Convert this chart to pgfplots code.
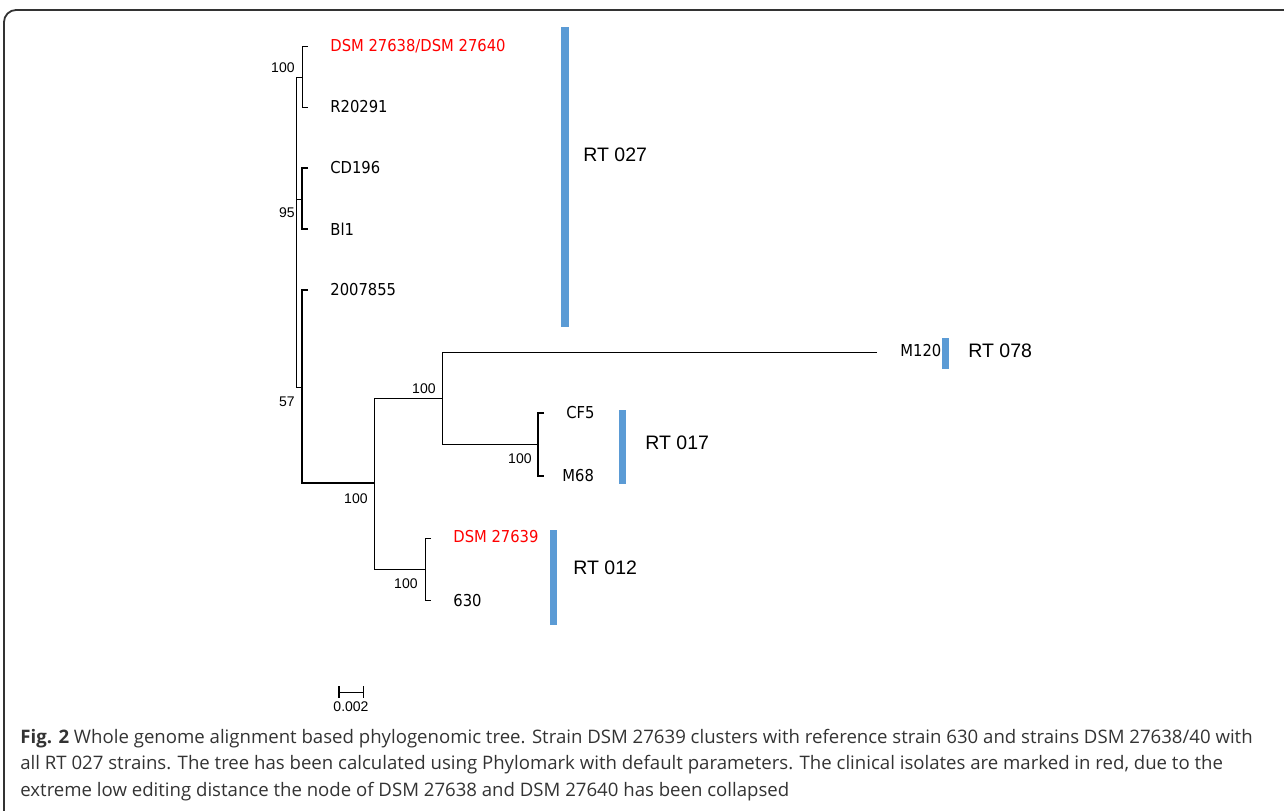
\documentclass[border=0pt]{standalone}
\usepackage{fontspec}
\usepackage{pgfplots}
\pgfplotsset{compat=1.18}
\setmainfont{Liberation Sans}
\newfontfamily\leaffont[FakeStretch=0.9]{DejaVu Sans}
\newfontfamily\capfont{Open Sans}
\definecolor{barblue}{HTML}{5B9BD5}
\definecolor{capgray}{HTML}{333333}
\begin{document}
\begin{tikzpicture}
\begin{axis}[
  at={(0,0)}, anchor=south west,
  width=642pt, height=405pt, scale only axis,
  xmin=0, xmax=1284, ymin=0, ymax=810, y dir=reverse,
  hide axis, clip=false,
  cycle list={{black, solid, line width=0.6pt}},
  no markers,
]
% ---- tree branches (pixel coordinates) ----
\addplot coordinates {(308,46) (302,46) (302,107) (308,107)};
\addplot coordinates {(296,77) (302,77)};
\addplot coordinates {(308,168) (302,168) (302,229) (308,229)};
\addplot coordinates {(296,199) (302,199)};
\addplot coordinates {(296,77) (296,387) (302,387)};
\addplot coordinates {(308,290) (302,290) (302,483) (374,483)};
\addplot coordinates {(442,398) (374,398) (374,569) (425,569)};
\addplot coordinates {(877,352) (442,352) (442,444) (538,444)};
\addplot coordinates {(544,413) (538,413) (538,476) (544,476)};
\addplot coordinates {(431,538) (425,538) (425,600) (431,600)};
% ---- scale bar ----
\addplot coordinates {(339,692) (363,692)};
\addplot coordinates {(339,686) (339,698)};
\addplot coordinates {(363,686) (363,698)};
% ---- ribotype bars ----
\addplot[barblue, line width=4pt] coordinates {(565,27) (565,327)};
\addplot[barblue, line width=3.6pt] coordinates {(945.5,338) (945.5,369)};
\addplot[barblue, line width=3.6pt] coordinates {(622.5,410) (622.5,484)};
\addplot[barblue, line width=3.6pt] coordinates {(553.5,530) (553.5,625)};
% ---- leaf labels ----
\begin{scope}[every node/.style={anchor=west, inner sep=0pt, font=\leaffont\fontsize{8.2pt}{10pt}\selectfont}]
\node[text=red] at (axis cs:330,46) {DSM 27638/DSM 27640};
\node at (axis cs:330,107) {R20291};
\node at (axis cs:330,168) {CD196};
\node at (axis cs:330,229) {Bl1};
\node at (axis cs:330,290) {2007855};
\node at (axis cs:900,351) {M120};
\node at (axis cs:566,413) {CF5};
\node at (axis cs:562,476) {M68};
\node[text=red] at (axis cs:453,537) {DSM 27639};
\node at (axis cs:453,601) {630};
\end{scope}
% ---- bootstrap values ----
\begin{scope}[every node/.style={anchor=east, inner sep=0pt, font=\fontsize{7pt}{8pt}\selectfont}]
\node at (axis cs:295,68) {100};
\node at (axis cs:295,213) {95};
\node at (axis cs:295,402) {57};
\node at (axis cs:436,389) {100};
\node at (axis cs:368,499) {100};
\node at (axis cs:532,459) {100};
\node at (axis cs:418,584) {100};
\end{scope}
\node[inner sep=0pt, font=\fontsize{7pt}{8pt}\selectfont] at (axis cs:351,707) {0.002};
% ---- ribotype labels ----
\begin{scope}[every node/.style={anchor=west, inner sep=0pt, font=\fontsize{9.75pt}{11pt}\selectfont}]
\node at (axis cs:583,155) {RT 027};
\node at (axis cs:968,351) {RT 078};
\node at (axis cs:645,443) {RT 017};
\node at (axis cs:573,568) {RT 012};
\end{scope}
% ---- caption ----
\begin{scope}[every node/.style={anchor=west, inner sep=0pt, text=capgray, font=\capfont\fontsize{9.3pt}{11pt}\selectfont}]
\node at (axis cs:20,739) {\textbf{Fig. 2} Whole genome alignment based phylogenomic tree. Strain DSM 27639 clusters with reference strain 630 and strains DSM 27638/40 with};
\node at (axis cs:20,765) {all RT 027 strains. The tree has been calculated using Phylomark with default parameters. The clinical isolates are marked in red, due to the};
\node at (axis cs:20,792) {extreme low editing distance the node of DSM 27638 and DSM 27640 has been collapsed};
\end{scope}
% ---- frame ----
\draw[line width=0.9pt, black!80, rounded corners=6pt] (axis cs:1300,10) -- (axis cs:4,10) -- (axis cs:4,830);
\end{axis}
\pgfresetboundingbox
\path (0,0) rectangle (642pt,405pt);
\end{tikzpicture}
\end{document}
